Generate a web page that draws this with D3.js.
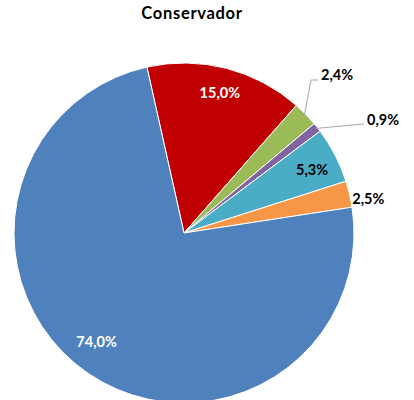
<!DOCTYPE html>
<html><head><meta charset="utf-8">
<script src="https://cdn.jsdelivr.net/npm/d3@7"></script>
<style>
html,body{margin:0;padding:0;background:#fff;}
svg{display:block;font-family:Lato,"Open Sans",sans-serif;}
</style></head>
<body>
<svg id="chart" width="414" height="400"></svg>
<script>
// ---- data ----
const title = "Conservador";
const categories = ["A","B","C","D","E","F"];
const values = [15.0, 2.4, 0.9, 5.3, 2.5, 74.0];
const labels = ["15,0%","2,4%","0,9%","5,3%","2,5%","74,0%"];
const colors = ["#C00000","#9BBB59","#8064A2","#4BACC6","#F79646","#4F81BD"];

// ---- layout (style, not data) ----
const W = 414, H = 400;
const cx = 184, cy = 233, R = 170;
const startDeg = -12.6;
const labelLayout = [
  {mode:"in",  rf:0.85, da:0,   fill:"#fff"},
  {mode:"lead", fill:"#000", bend:[127,-153], text:[137,-158]},
  {mode:"lead", fill:"#000", bend:[179,-109], text:[183,-113]},
  {mode:"in",  rf:0.84, da:1,   fill:"#000"},
  {mode:"out", rf:1.01, da:1.8, fill:"#000"},
  {mode:"in",  rf:0.82, da:4.5, fill:"#fff"}
];

const svg = d3.select("#chart");
svg.append("text").attr("x",192).attr("y",19).attr("text-anchor","middle")
  .attr("font-size",16.5).attr("letter-spacing",0.7).attr("font-weight","bold").attr("fill","#000").text(title);

const rad = d => d*Math.PI/180;
const pie = d3.pie().sort(null).value(d=>d)
  .startAngle(rad(startDeg)).endAngle(rad(startDeg+360));
const arcs = pie(values);
const arc = d3.arc().innerRadius(0).outerRadius(R);

const g = svg.append("g").attr("transform",`translate(${cx},${cy})`);
g.selectAll("path.slice").data(arcs).enter().append("path")
  .attr("class","slice")
  .attr("d",arc)
  .attr("fill",(d,i)=>colors[i])
  .attr("stroke","#fff").attr("stroke-width",1);

const polar = (a, r) => [Math.sin(a)*r, -Math.cos(a)*r];
const FS = 14.5;

arcs.forEach((d,i)=>{
  const L = labelLayout[i];
  const mid = (d.startAngle+d.endAngle)/2;
  if (L.mode==="in" || L.mode==="out") {
    const [x,y] = polar(mid+rad(L.da), R*L.rf);
    g.append("text").attr("x",x).attr("y",y).attr("dy","0.35em")
      .attr("text-anchor", L.mode==="in" ? "middle" : "start")
      .attr("font-size",FS).attr("font-weight","bold").attr("fill",L.fill)
      .text(labels[i]);
  } else {
    const [x0,y0] = polar(mid, R*0.99);
    const [bx,by] = L.bend;
    g.append("polyline")
      .attr("points",`${x0},${y0} ${bx},${by} ${L.text[0]-3},${by}`)
      .attr("fill","none").attr("stroke","#a6a6a6").attr("stroke-width",1);
    g.append("text").attr("x",L.text[0]).attr("y",L.text[1]).attr("dy","0.35em")
      .attr("text-anchor","start")
      .attr("font-size",FS).attr("font-weight","bold").attr("fill",L.fill)
      .text(labels[i]);
  }
});
</script>
</body></html>
